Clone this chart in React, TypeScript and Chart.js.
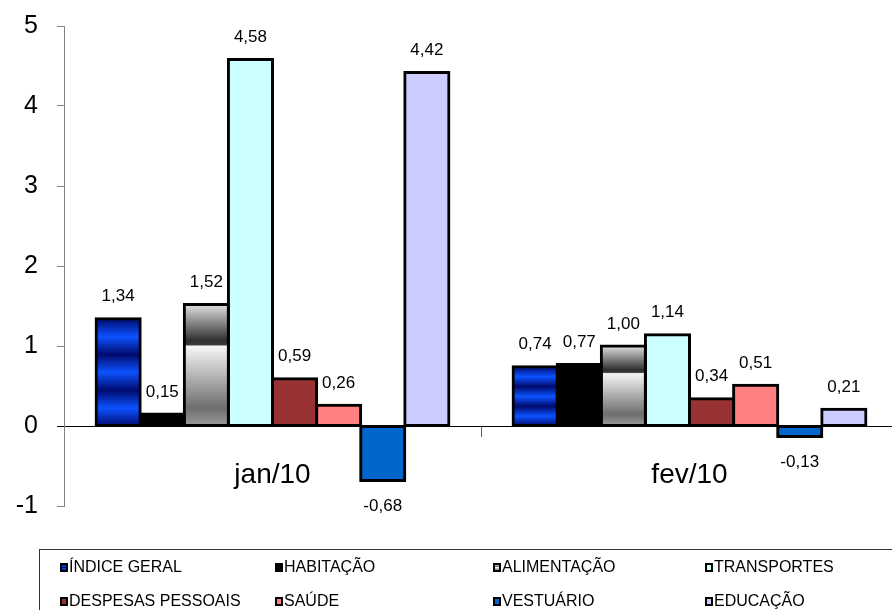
import React, { useEffect, useRef } from "react";
import { Chart, registerables } from "chart.js";

Chart.register(...registerables);

// ---- data ----
const categories = ["jan/10", "fev/10"];
const seriesNames = [
  "ÍNDICE GERAL",
  "HABITAÇÃO",
  "ALIMENTAÇÃO",
  "TRANSPORTES",
  "DESPESAS PESSOAIS",
  "SAÚDE",
  "VESTUÁRIO",
  "EDUCAÇÃO",
];
const indiceGeral = [1.34, 0.74];
const habitacao = [0.15, 0.77];
const alimentacao = [1.52, 1.0];
const transportes = [4.58, 1.14];
const despesasPessoais = [0.59, 0.34];
const saude = [0.26, 0.51];
const vestuario = [-0.68, -0.13];
const educacao = [4.42, 0.21];
const yMin = -1;
const yMax = 5;
const yStep = 1;

const seriesValues = [
  indiceGeral,
  habitacao,
  alimentacao,
  transportes,
  despesasPessoais,
  saude,
  vestuario,
  educacao,
];

// ---- styles ----
const FONT = '"Liberation Sans", Arial, sans-serif';
const flatColors = [
  "#0a3ad8",
  "#000000",
  "#b0b0b0",
  "#ccffff",
  "#993333",
  "#ff8080",
  "#0066cc",
  "#ccccff",
];
const legendSwatches = [
  "linear-gradient(#000a70,#1050ff,#000a70,#1050ff,#000a70)",
  "#000000",
  "linear-gradient(#d8d8d8,#333 45%,#f4f4f4 50%,#808080)",
  "#ccffff",
  "#993333",
  "#ff8080",
  "#0066cc",
  "#ccccff",
];

function barBox(c: any) {
  const chart = c.chart;
  if (!chart.chartArea || c.type !== "data" || !chart.scales || !chart.scales.y) return null;
  const v = c.raw as number;
  const ys = chart.scales.y;
  const top = ys.getPixelForValue(Math.max(v, 0));
  const bottom = ys.getPixelForValue(Math.min(v, 0));
  return { top, bottom };
}

function stripedBlue(c: any) {
  const b = barBox(c);
  if (!b) return flatColors[0];
  const g = c.chart.ctx.createLinearGradient(0, b.top, 0, b.bottom);
  const dark = "#000a6e";
  const bright = "#0c52ff";
  for (let i = 0; i <= 6; i++) {
    g.addColorStop(i / 6, i % 2 === 0 ? dark : bright);
  }
  return g;
}

function greyShaded(c: any) {
  const b = barBox(c);
  if (!b) return flatColors[2];
  const g = c.chart.ctx.createLinearGradient(0, b.top, 0, b.bottom);
  g.addColorStop(0, "#e0e0e0");
  g.addColorStop(0.3, "#2e2e2e");
  g.addColorStop(0.33, "#3a3a3a");
  g.addColorStop(0.345, "#f6f6f6");
  g.addColorStop(0.85, "#6e6e6e");
  g.addColorStop(1, "#9a9a9a");
  return g;
}

const valueLabels = {
  id: "valueLabels",
  afterDatasetsDraw(chart: any) {
    const ctx = chart.ctx;
    ctx.save();
    ctx.font = `17px ${FONT}`;
    ctx.fillStyle = "#000";
    ctx.textAlign = "center";
    ctx.textBaseline = "middle";
    chart.data.datasets.forEach((ds: any, i: number) => {
      const meta = chart.getDatasetMeta(i);
      meta.data.forEach((el: any, j: number) => {
        const v = ds.data[j] as number;
        const text = v.toFixed(2).replace(".", ",");
        const y = v >= 0 ? el.y - 22 : el.y + 26;
        ctx.fillText(text, el.x, y);
      });
    });
    ctx.restore();
  },
};

const CANVAS_W = 906;
const CANVAS_H = 610;

export default function App() {
  const ref = useRef<HTMLCanvasElement | null>(null);

  useEffect(() => {
    if (!ref.current) return;
    const datasets = seriesNames.map((name, i) => ({
      label: name,
      data: seriesValues[i],
      backgroundColor: i === 0 ? stripedBlue : i === 2 ? greyShaded : flatColors[i],
      borderColor: "#000",
      borderWidth: 3,
      inflateAmount: 1.5,
      borderSkipped: false as any,
      categoryPercentage: 0.846,
      barPercentage: 1,
    }));
    const chart = new Chart(ref.current, {
      type: "bar",
      data: { labels: categories, datasets },
      plugins: [valueLabels],
      options: {
        responsive: false,
        animation: false,
        layout: { padding: { top: 26, right: 8, left: 0, bottom: CANVAS_H - 506 } },
        plugins: {
          legend: { display: false },
          tooltip: { enabled: false },
          title: { display: false },
        },
        scales: {
          x: {
            position: { y: 0 } as any,
            offset: true,
            grid: {
              offset: true,
              drawOnChartArea: false,
              drawTicks: true,
              tickLength: 10,
              color: "#606060",
            },
            border: { display: true, color: "#000", width: 1 },
            ticks: {
              color: "#000",
              font: { family: FONT, size: 28 },
              padding: 22,
              maxRotation: 0,
            },
          },
          y: {
            min: yMin,
            max: yMax,
            ticks: {
              stepSize: yStep,
              color: "#000",
              font: { family: FONT, size: 25 },
              padding: 19,
              callback: (v: any) => String(v),
            },
            grid: {
              drawOnChartArea: false,
              drawTicks: true,
              tickLength: 7,
              color: (c: any) => (c.tick && c.tick.value === 0 ? "#000" : "#808080"),
            },
            border: { display: true, color: "#808080", width: 1 },
            afterFit: (s: any) => {
              s.width = 64;
              s.paddingTop = 0;
              s.paddingBottom = 0;
            },
          },
        },
      },
    });
    return () => chart.destroy();
  }, []);

  const cols = [60, 275, 493, 705];
  const rows = [567, 601];

  return (
    <div
      style={{
        position: "absolute",
        left: 0,
        top: 0,
        width: 892,
        height: 610,
        overflow: "hidden",
        background: "#fff",
        fontFamily: FONT,
      }}
    >
      <canvas
        ref={ref}
        width={CANVAS_W}
        height={CANVAS_H}
        style={{ position: "absolute", left: 0, top: 0, width: CANVAS_W, height: CANVAS_H }}
      />
      <div
        style={{
          position: "absolute",
          left: 39,
          top: 549,
          width: 900,
          height: 100,
          border: "1px solid #333",
          boxSizing: "border-box",
        }}
      />
      {seriesNames.map((name, i) => {
        const col = cols[i % 4];
        const row = rows[Math.floor(i / 4)];
        return (
          <div
            key={name}
            style={{
              position: "absolute",
              left: col,
              top: row - 10,
              height: 20,
              display: "flex",
              alignItems: "center",
              fontSize: 16,
              color: "#000",
              whiteSpace: "nowrap",
            }}
          >
            <span
              style={{
                display: "inline-block",
                width: 4,
                height: 5,
                border: "2px solid #000",
                background: legendSwatches[i],
                marginRight: 1,
              }}
            />
            <span>{name}</span>
          </div>
        );
      })}
    </div>
  );
}
